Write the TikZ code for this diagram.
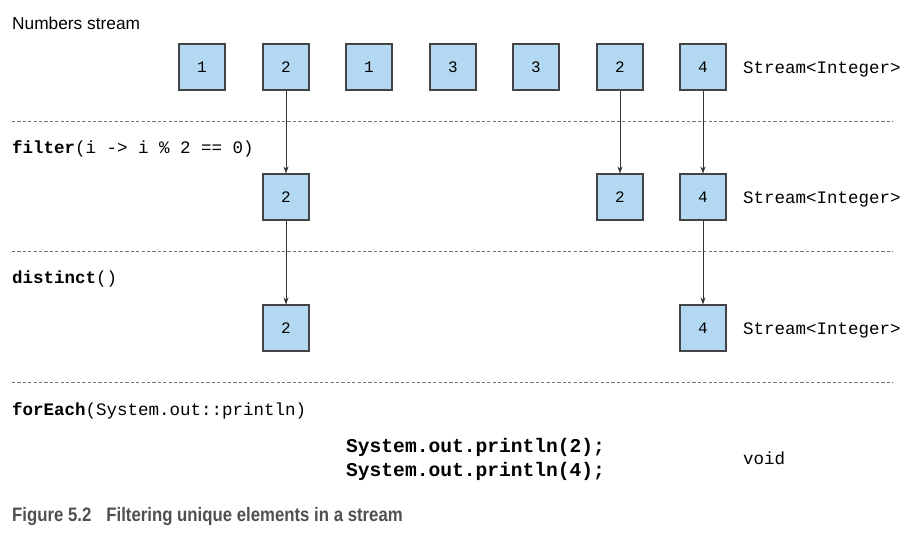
\documentclass[tikz,border=0pt]{standalone}
\usepackage{fontspec}
\setmainfont{Liberation Sans}
\setmonofont{Liberation Mono}
\newfontfamily\capfont[FakeStretch=0.86]{Liberation Sans}
\usetikzlibrary{arrows.meta}
\definecolor{boxfill}{HTML}{B3D9F2}
\definecolor{boxline}{HTML}{444444}
\definecolor{dashcol}{HTML}{707070}
\definecolor{capcol}{HTML}{505050}
\tikzset{
  elem/.style={draw=boxline, fill=boxfill, line width=1.1pt, minimum size=46pt, inner sep=0pt, font=\fontsize{16}{18}\selectfont\ttfamily},
  sep/.style={draw=dashcol, line width=0.8pt, dash pattern=on 3.2pt off 2.2pt},
  flow/.style={draw=black!80, line width=0.9pt, -{Stealth[length=7pt,width=5pt]}},
  lbl/.style={anchor=base west, inner sep=0pt, font=\fontsize{17.5}{20}\selectfont\ttfamily},
  outlbl/.style={anchor=base west, inner sep=0pt, font=\fontsize{19.6}{22}\selectfont\ttfamily\bfseries},
}
\begin{document}
\begin{tikzpicture}[x=1pt,y=-1pt]
\useasboundingbox (0,0) rectangle (913,536);
% top row
\node[elem] (a1) at (202,67) {1};
\node[elem] (a2) at (286,67) {2};
\node[elem] (a3) at (369,67) {1};
\node[elem] (a4) at (453,67) {3};
\node[elem] (a5) at (536,67) {3};
\node[elem] (a6) at (620,67) {2};
\node[elem] (a7) at (703,67) {4};
% second row
\node[elem] (b2) at (286,197) {2};
\node[elem] (b6) at (620,197) {2};
\node[elem] (b7) at (703,197) {4};
% third row
\node[elem] (c2) at (286,328) {2};
\node[elem] (c7) at (703,328) {4};
% separators
\coordinate (s1l) at (12,121); \coordinate (s1r) at (893,121);
\coordinate (s2l) at (12,251); \coordinate (s2r) at (893,251);
\coordinate (s3l) at (12,382); \coordinate (s3r) at (893,382);
\draw[sep] (s1l) -- (s1r);
\draw[sep] (s2l) -- (s2r);
\draw[sep] (s3l) -- (s3r);
% arrows
\draw[flow] (a2) -- (b2);
\draw[flow] (a6) -- (b6);
\draw[flow] (a7) -- (b7);
\draw[flow] (b2) -- (c2);
\draw[flow] (b7) -- (c7);
% labels
\node[anchor=base west, inner sep=0pt, font=\fontsize{17.3}{20}\selectfont] (title) at (12,29) {Numbers stream};
\node[lbl] (filt) at (12,153) {\textbf{filter}(i -> i \% 2 == 0)};
\node[lbl] (dist) at (12,283) {\textbf{distinct}()};
\node[lbl] (fore) at (12,415) {\textbf{forEach}(System.out::println)};
\node[lbl] (t1) at (743,73) {Stream<Integer>};
\node[lbl] (t2) at (743,203) {Stream<Integer>};
\node[lbl] (t3) at (743,334) {Stream<Integer>};
\node[outlbl] (out1) at (346,452) {System.out.println(2);};
\node[outlbl] (out2) at (346,476) {System.out.println(4);};
\node[lbl] (void) at (743,464) {void};
\node[anchor=base west, inner sep=0pt, text=capcol, font=\capfont\bfseries\fontsize{19.5}{22}\selectfont] (cap) at (12,521) {Figure 5.2\hspace{15pt}Filtering unique elements in a stream};
\end{tikzpicture}
\end{document}
